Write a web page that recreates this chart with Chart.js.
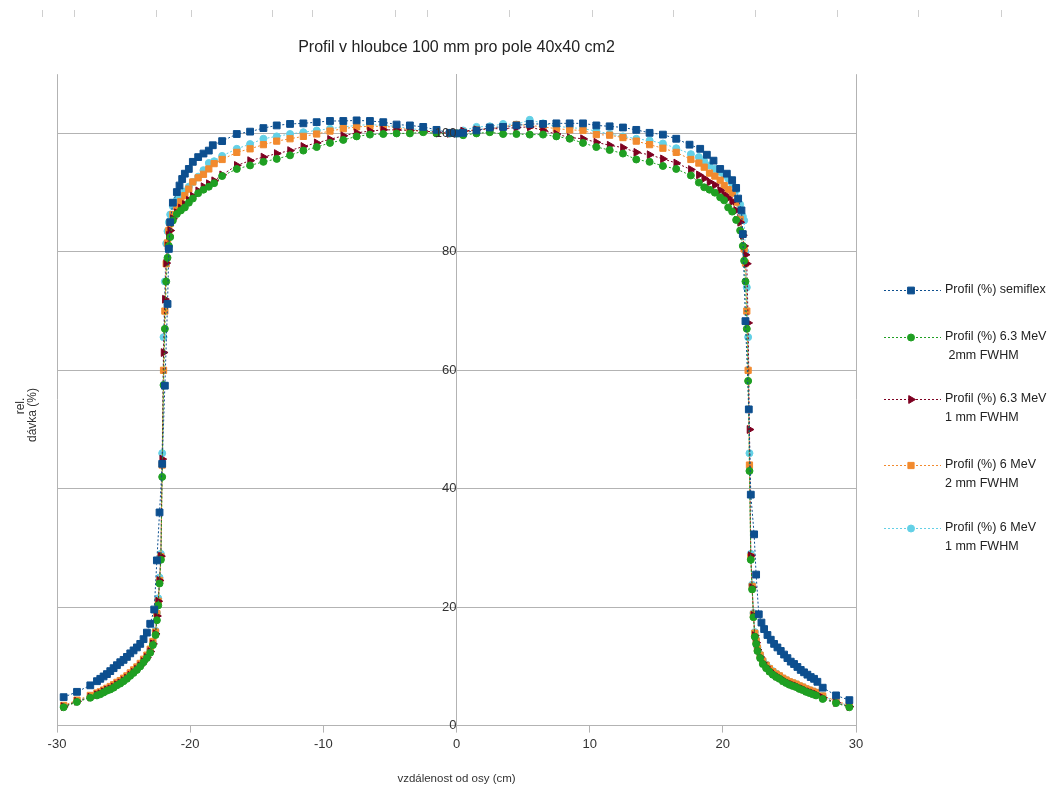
<!DOCTYPE html>
<html>
<head>
<meta charset="utf-8">
<title>Profil v hloubce 100 mm pro pole 40x40 cm2</title>
<script src="https://cdn.jsdelivr.net/npm/chart.js@4.4.1/dist/chart.umd.min.js"></script>
<style>
  html, body { margin: 0; padding: 0; background: #fff; }
  #wrap { width: 1060px; height: 789px; }
</style>
</head>
<body>
<div id="wrap"><canvas id="chart" width="1060" height="789"></canvas></div>
<script>
// x positions (cm) of the film measurements
var xFilm = [
  -29.5, -28.5, -27.5,
  -27, -26.75, -26.5, -26.25, -26, -25.75, -25.5, -25.25, -25, -24.75, -24.5, -24.25, -24, -23.75, -23.5, -23.25, -23,
  -22.8, -22.6,
  -22.5, -22.4, -22.3, -22.2, -22.1, -22, -21.9, -21.8, -21.7, -21.6, -21.5,
  -21.3, -21, -20.7, -20.4, -20.1, -19.8, -19.4, -19, -18.6, -18.2, -17.6,
  -16.5, -15.5, -14.5, -13.5, -12.5, -11.5, -10.5, -9.5, -8.5, -7.5, -6.5, -5.5, -4.5, -3.5, -2.5, -1.5, -0.5,
  0,
  0.5, 1.5, 2.5, 3.5, 4.5, 5.5, 6.5, 7.5, 8.5, 9.5, 10.5, 11.5, 12.5, 13.5, 14.5, 15.5, 16.5,
  17.6, 18.2, 18.6, 19, 19.4, 19.8, 20.1, 20.4, 20.7, 21, 21.3,
  21.5, 21.6, 21.7, 21.8, 21.9, 22, 22.1, 22.2, 22.3, 22.4, 22.5,
  22.6, 22.8,
  23, 23.25, 23.5, 23.75, 24, 24.25, 24.5, 24.75, 25, 25.25, 25.5, 25.75, 26, 26.25, 26.5, 26.75, 27,
  27.5, 28.5, 29.5
];

// Profil (%) 6.3 MeV 2mm FWHM
var yGreen = [
  3.1, 4.0, 4.7,
  5.1, 5.3, 5.6, 5.9, 6.1, 6.4, 6.8, 7.1, 7.5, 7.9, 8.4, 8.9, 9.4, 10.0, 10.7, 11.4, 12.3,
  13.6, 15.3,
  17.8, 20.3, 24.0, 28.0, 42.0, 57.5, 67.0, 75.0, 79.0, 81.0, 82.5,
  85.3, 86.4, 87.0, 87.5, 88.3, 89.0, 89.9, 90.5, 91.0, 91.6, 92.8,
  94.0, 94.6, 95.2, 95.7, 96.3, 97.1, 97.7, 98.4, 98.9, 99.5, 99.8, 99.9, 100.0, 100.0, 100.2, 100.0, 100.0,
  100.0,
  99.7, 100.0, 100.2, 99.9, 99.9, 99.8, 99.8, 99.5, 99.1, 98.4, 97.7, 97.2, 96.6, 95.6, 95.2, 94.5, 94.0,
  92.9, 91.7, 90.9, 90.5, 90.0, 89.2, 88.7, 87.5, 86.8, 85.4, 83.6,
  81.0, 78.5, 75.0, 67.0, 58.2, 43.0, 28.0, 23.0, 18.3, 15.0, 13.8,
  12.6, 11.4,
  10.4, 9.7, 9.1, 8.6, 8.2, 7.9, 7.5, 7.2, 6.9, 6.7, 6.5, 6.2, 6.0, 5.7, 5.5, 5.3, 5.1,
  4.5, 3.8, 3.1
];

// Profil (%) 6.3 MeV 1 mm FWHM
var yRed = [
  3.2, 4.1, 4.8,
  5.2, 5.4, 5.7, 6.0, 6.2, 6.5, 6.9, 7.2, 7.6, 8.0, 8.5, 9.0, 9.5, 10.1, 10.8, 11.5, 12.5,
  13.8, 15.5,
  18.5, 21.0, 24.5, 28.6, 45.0, 63.0, 72.0, 78.1, 81.0, 82.8, 83.6,
  85.6, 86.6, 87.4, 88.0, 88.7, 89.4, 90.3, 91.0, 91.5, 92.0, 93.0,
  94.6, 95.4, 96.0, 96.6, 97.1, 97.8, 98.4, 99.0, 99.6, 100.1, 100.4, 100.6, 100.6, 100.5, 100.4, 100.2, 100.0,
  100.0,
  100.4, 100.6, 100.8, 100.8, 101.0, 101.1, 100.5, 99.9, 99.3, 99.1, 98.5, 98.0, 97.6, 96.8, 96.4, 95.7, 95.0,
  93.9, 93.0, 92.4, 91.8, 91.3, 90.4, 89.7, 89.1, 88.5, 87.0, 85.0,
  82.8, 81.0, 79.5, 78.0, 68.0, 50.0, 28.7, 23.3, 18.6, 15.2, 14.0,
  12.8, 11.6,
  10.6, 9.9, 9.3, 8.8, 8.4, 8.1, 7.7, 7.4, 7.1, 6.9, 6.7, 6.4, 6.2, 5.9, 5.7, 5.5, 5.3,
  4.7, 3.9, 3.2
];

// Profil (%) 6 MeV 2 mm FWHM
var yOrange = [
  3.4, 4.3, 5.1,
  5.5, 5.7, 6.0, 6.3, 6.6, 6.9, 7.3, 7.6, 8.0, 8.4, 8.9, 9.4, 9.9, 10.5, 11.2, 11.9, 12.9,
  14.2, 15.8,
  18.9, 21.0, 24.5, 28.5, 44.0, 60.0, 70.0, 78.0, 81.5, 83.6, 84.8,
  86.3, 87.6, 88.5, 89.5, 90.6, 91.8, 92.5, 93.1, 94.0, 94.9, 95.6,
  96.8, 97.4, 98.1, 98.7, 99.1, 99.5, 99.9, 100.4, 100.8, 101.1, 101.2, 101.2, 101.0, 100.6, 100.4, 100.2, 100.0,
  100.0,
  100.2, 100.6, 100.8, 101.1, 101.5, 101.35, 101.1, 100.8, 100.6, 100.5, 99.8, 99.7, 99.3, 98.7, 98.1, 97.5, 96.8,
  95.6, 95.0, 94.3, 93.3, 92.8, 92.1, 91.2, 90.5, 89.9, 88.4, 85.5,
  83.0, 80.5, 78.1, 70.0, 60.0, 44.0, 28.5, 23.5, 18.8, 15.6, 14.3,
  13.1, 11.9,
  10.9, 10.2, 9.6, 9.1, 8.7, 8.4, 8.0, 7.7, 7.4, 7.2, 7.0, 6.7, 6.5, 6.2, 6.0, 5.8, 5.6,
  5.0, 4.2, 3.4
];

// Profil (%) 6 MeV 1 mm FWHM
var yCyan = [
  3.3, 4.2, 4.9,
  5.3, 5.5, 5.8, 6.1, 6.4, 6.7, 7.1, 7.4, 7.8, 8.2, 8.7, 9.2, 9.7, 10.3, 11.0, 11.7, 12.7,
  14.0, 16.0,
  19.0, 21.5, 25.0, 29.0, 46.0, 65.6, 75.0, 81.4, 83.5, 85.0, 86.3,
  87.7, 88.8, 89.5, 90.2, 91.0, 91.8, 92.7, 93.8, 95.0, 95.3, 96.2,
  97.4, 98.2, 99.1, 99.5, 99.9, 100.2, 100.5, 100.8, 101.1, 101.35, 101.5, 101.35, 101.2, 100.8, 100.6, 100.4, 100.1,
  100.0,
  100.5, 101.1, 101.2, 101.6, 101.5, 102.3, 101.7, 101.2, 101.0, 100.8, 100.4, 99.9, 99.5, 99.1, 98.8, 98.3, 97.5,
  96.5, 96.0, 95.3, 94.6, 94.0, 93.5, 93.0, 92.4, 91.5, 90.4, 88.0,
  86.0, 85.3, 80.0, 74.0, 65.6, 46.0, 29.0, 23.8, 19.0, 15.8, 14.5,
  13.2, 12.0,
  11.0, 10.3, 9.7, 9.2, 8.8, 8.4, 8.0, 7.7, 7.4, 7.2, 7.0, 6.7, 6.5, 6.2, 6.0, 5.8, 5.6,
  5.0, 4.1, 3.3
];

// semiflex chamber has its own sample positions
var xSemiflex = [
  -29.5, -28.5, -27.5,
  -27, -26.75, -26.5, -26.25, -26, -25.75, -25.5, -25.25, -25, -24.75, -24.5, -24.25, -24, -23.75, -23.5, -23.25, -23,
  -22.7, -22.5, -22.3, -22.1, -21.9, -21.7, -21.6, -21.5,
  -21.3, -21, -20.8, -20.6, -20.4, -20.1, -19.8, -19.4, -19, -18.6, -18.3, -17.6,
  -16.5, -15.5, -14.5, -13.5, -12.5, -11.5, -10.5, -9.5, -8.5, -7.5, -6.5, -5.5, -4.5, -3.5, -2.5, -1.5, -0.5,
  0,
  0.5, 1.5, 2.5, 3.5, 4.5, 5.5, 6.5, 7.5, 8.5, 9.5, 10.5, 11.5, 12.5, 13.5, 14.5, 15.5, 16.5,
  17.5, 18.3, 18.8, 19.3, 19.8, 20.3, 20.7, 21, 21.15, 21.4, 21.5, 21.7, 21.95, 22.1, 22.35, 22.5, 22.7,
  22.9, 23.1, 23.35, 23.6, 23.85, 24.1, 24.35, 24.6, 24.85, 25.1, 25.35, 25.6, 25.85, 26.1, 26.35, 26.6, 26.85, 27.1,
  27.5, 28.5, 29.5
];
var ySemiflex = [
  4.8, 5.7, 6.8,
  7.5, 7.9, 8.3, 8.7, 9.2, 9.7, 10.2, 10.7, 11.1, 11.6, 12.2, 12.7, 13.2, 13.8, 14.6, 15.7, 17.2,
  19.6, 27.9, 36.0, 44.2, 57.4, 71.2, 80.5, 85.0,
  88.3, 90.1, 91.2, 92.3, 93.2, 94.0, 95.2, 96.0, 96.6, 97.1, 98.0, 98.7,
  99.9, 100.3, 100.9, 101.35, 101.6, 101.7, 101.9, 102.1, 102.1, 102.2, 102.1, 101.9, 101.5, 101.35, 101.1, 100.6, 100.1,
  100.0,
  100.1, 100.5, 101.0, 101.1, 101.35, 101.6, 101.6, 101.7, 101.7, 101.7, 101.35, 101.2, 101.0, 100.6, 100.1, 99.8, 99.1,
  98.1, 97.4, 96.4, 95.4, 94.0, 93.2, 92.1, 90.8, 89.0, 87.0, 83.0, 68.3, 53.4, 39.0, 32.3, 25.5, 18.8,
  17.4, 16.3, 15.3, 14.5, 13.8, 13.2, 12.6, 12.0, 11.4, 10.8, 10.4, 9.9, 9.4, 9.0, 8.6, 8.2, 7.9, 7.4,
  6.4, 5.1, 4.3
];

var seriesLabels = [
  ['Profil (%) semiflex'],
  ['Profil (%) 6.3 MeV', ' 2mm FWHM'],
  ['Profil (%) 6.3 MeV', '1 mm FWHM'],
  ['Profil (%) 6 MeV', '2 mm FWHM'],
  ['Profil (%) 6 MeV', '1 mm FWHM']
];
var titleText = 'Profil v hloubce 100 mm pro pole 40x40 cm2';
var xTitle = 'vzdálenost od osy (cm)';
var yTitle = ['rel.', 'dávka (%)'];

var FONT = "'Liberation Sans', Arial, sans-serif";
Chart.defaults.font.family = FONT;

function pairUp(xs, ys) {
    if (xs.length != ys.length) console.warn('length mismatch', xs.length, ys.length);
    var out = [];
    for (var i = 0; i < Math.min(xs.length, ys.length); i++) {
        out.push({x: xs[i], y: ys[i]});
    }
    return out;
}

function makeSet(label, xs, ys, color, style, radius, rot) {
    return {
        label: label.join(' '),
        data: pairUp(xs, ys),
        showLine: true,
        borderColor: color,
        backgroundColor: color,
        borderWidth: 1,
        borderDash: [2, 2],
        pointStyle: style,
        pointRadius: radius,
        pointRotation: rot || 0,
        pointBackgroundColor: color,
        pointBorderColor: color,
        pointBorderWidth: 1
    };
}

// spreadsheet ruler marks above the chart (decoration only)
var rulerMarks = [42, 74, 156, 191, 272, 312, 395, 427, 509, 592, 673, 755, 837, 918, 1001];
var legendY = [290, 337, 399, 465, 528];

function drawMarker(ctx, ds, x, y) {
    ctx.fillStyle = ds.pointBackgroundColor;
    ctx.strokeStyle = ds.pointBorderColor;
    ctx.lineWidth = 1;
    if (Chart.helpers && Chart.helpers.drawPoint) {
        Chart.helpers.drawPoint(ctx, {pointStyle: ds.pointStyle, radius: ds.pointRadius,
            rotation: ds.pointRotation, borderWidth: 1}, x, y);
        return;
    }
    ctx.beginPath();
    ctx.arc(x, y, ds.pointRadius, 0, 2 * Math.PI);
    ctx.fill();
}

const extras = {
    id: 'extras',
    afterDraw: (chart) => {
        const ctx = chart.ctx;
        ctx.save();
        // ruler marks
        ctx.strokeStyle = '#cfcfcf';
        ctx.lineWidth = 1;
        rulerMarks.forEach(function (mx) {
            ctx.beginPath();
            ctx.moveTo(mx + 0.5, 10);
            ctx.lineTo(mx + 0.5, 17);
            ctx.stroke();
        });
        // y axis title, rotated
        ctx.fillStyle = '#333';
        ctx.font = '12px ' + FONT;
        ctx.textAlign = 'center';
        ctx.textBaseline = 'middle';
        ctx.save();
        ctx.translate(21, 406);
        ctx.rotate(-Math.PI / 2);
        ctx.fillText(yTitle[0], 0, 0);
        ctx.restore();
        ctx.save();
        ctx.translate(33, 415);
        ctx.rotate(-Math.PI / 2);
        ctx.fillText(yTitle[1], 0, 0);
        ctx.restore();
        // legend
        ctx.font = '12.5px ' + FONT;
        ctx.textAlign = 'left';
        chart.data.datasets.forEach(function (ds, i) {
            var y = legendY[i];
            ctx.strokeStyle = ds.borderColor;
            ctx.setLineDash([2, 2]);
            ctx.beginPath();
            ctx.moveTo(884, y + 0.5);
            ctx.lineTo(941, y + 0.5);
            ctx.stroke();
            ctx.setLineDash([]);
            drawMarker(ctx, ds, 911, y + 0.5);
            ctx.fillStyle = '#222';
            seriesLabels[i].forEach(function (line, k) {
                ctx.fillText(line, 945, y + k * 18.5);
            });
        });
        ctx.restore();
    }
};

var datasets = [
    makeSet(seriesLabels[0], xSemiflex, ySemiflex, '#0d4f8f', 'rect', 4.8),
    makeSet(seriesLabels[1], xFilm, yGreen, '#1f9f22', 'circle', 3.5),
    makeSet(seriesLabels[2], xFilm, yRed, '#7e0021', 'triangle', 4.5, 90),
    makeSet(seriesLabels[3], xFilm, yOrange, '#f28a2e', 'rect', 4.4),
    makeSet(seriesLabels[4], xFilm, yCyan, '#63d0e6', 'circle', 3.5)
];

var gridGray = '#b3b3b3';
var ctx = document.getElementById('chart').getContext('2d');
var myChart = new Chart(ctx, {
    type: 'scatter',
    data: { datasets: datasets },
    options: {
        responsive: false,
        animation: false,
        layout: { padding: { left: 57, right: 204, top: 0, bottom: 1 } },
        scales: {
            x: {
                type: 'linear',
                min: -30,
                max: 30,
                ticks: { stepSize: 10, color: '#333', font: { size: 13 }, padding: 4 },
                grid: {
                    color: (c) => (c.tick && Math.abs(c.tick.value) === 30) ? gridGray : 'rgba(0,0,0,0)',
                    tickColor: gridGray,
                    tickLength: 7
                },
                border: { color: gridGray },
                title: { display: true, text: xTitle, color: '#333', font: { size: 11.5 }, padding: { top: 16, bottom: 2 } }
            },
            y: {
                type: 'linear',
                min: 0,
                max: 110,
                position: { x: 0 },
                // labels drawn over the data, like the "100" in the original
                ticks: { stepSize: 20, includeBounds: false, color: '#333', font: { size: 13 }, padding: 8, z: 1 },
                grid: { color: gridGray, drawTicks: false },
                border: { color: gridGray }
            }
        },
        plugins: {
            legend: { display: false },
            tooltip: { enabled: false },
            title: {
                display: true,
                text: titleText,
                color: '#222',
                font: { size: 16, weight: 'normal' },
                padding: { top: 38, bottom: 17 }
            }
        }
    },
    plugins: [extras]
});
</script>
</body>
</html>
